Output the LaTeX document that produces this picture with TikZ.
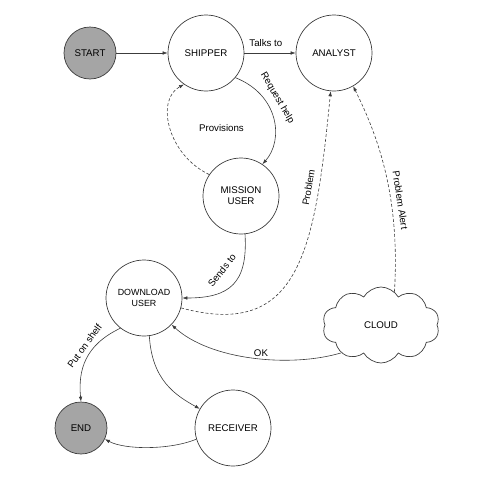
\documentclass[tikz,border=0pt]{standalone}
\usepackage{fontspec}
\setmainfont{Liberation Sans}
\usetikzlibrary{arrows.meta,shapes.symbols}
\definecolor{linec}{RGB}{60,60,60}
\definecolor{termfill}{RGB}{165,165,165}
\begin{document}
\begin{tikzpicture}[x=1pt,y=-1pt,
  state/.style={circle,draw=linec,line width=0.7pt,minimum size=76pt,inner sep=0pt,align=center,font=\fontsize{9.7}{11}\selectfont},
  term/.style={state,minimum size=52pt,fill=termfill},
  lab/.style={font=\fontsize{9.7}{11}\selectfont,inner sep=1.5pt},
  conn/.style={draw=linec,line width=0.6pt,-{Latex[length=5pt,width=3.6pt]}},
  dconn/.style={conn,dash pattern=on 3pt off 2pt}]
\useasboundingbox (0,0) rectangle (482,482);
\node[term] (start) at (90,53) {START};
\node[state] (shipper) at (206,53) {SHIPPER};
\node[state] (analyst) at (334,53) {ANALYST};
\node[state] (mission) at (241,196) {MISSION\\USER};
\node[state,font=\fontsize{8.9}{10.5}\selectfont] (download) at (144,298) {DOWNLOAD\\USER};
\node[term] (finish) at (81,428) {END};
\node[state] (receiver) at (233,428) {RECEIVER};
\node[cloud,draw=linec,line width=0.7pt,cloud puffs=10,cloud puff arc=120,aspect=1.6,minimum width=117pt,minimum height=76pt,inner sep=0pt,font=\fontsize{9.7}{11}\selectfont] (cloud) at (381,325) {CLOUD};

\draw[conn] (start) -- (shipper);
\draw[conn] (shipper) -- node[lab,above=4.5pt,pos=0.42]{Talks to} (analyst);
\draw[conn] (shipper.-40) .. controls (279,95) and (284,140) .. node[lab,sloped,above=5pt,pos=0.35]{Request help} (mission.56);
\draw[dconn] (mission.146) .. controls (168,155) and (155,100) .. node[lab,pos=0.5,right=27pt]{Provisions} (shipper.235);
\draw[conn] (mission.-84) .. controls (248,283) and (230,298) .. node[lab,sloped,above=12pt,pos=0.45]{Sends to} (download.east);
\draw[dconn] (download.-15) .. controls (300,340) and (315,250) .. node[lab,sloped,above=5pt,pos=0.77]{Problem} (analyst.-95);
\draw[dconn] (cloud.68) .. controls (400,200) and (380,140) .. node[lab,sloped,above=4pt,pos=0.37]{Problem Alert} (analyst.-60);
\draw[conn] (cloud.215) .. controls (290,368) and (210,360) .. node[lab,above,pos=0.45]{OK} (download.-44);
\draw[conn] (download.-128) .. controls (85,345) and (78,370) .. node[lab,sloped,above=3pt,pos=0.38]{Put on shelf} (finish.north);
\draw[conn] (download.-82) .. controls (152,380) and (175,395) .. (receiver.150);
\draw[conn] (receiver.197) .. controls (170,450) and (125,450) .. (finish.-25);
\end{tikzpicture}
\end{document}
